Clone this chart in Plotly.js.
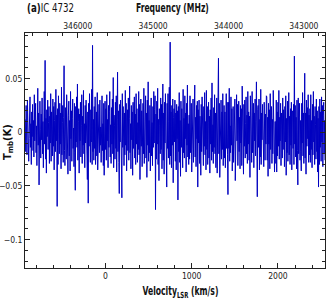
<!DOCTYPE html>
<html><head><meta charset="utf-8">
<script src="https://cdn.plot.ly/plotly-3.0.1.min.js"></script>
<style>html,body{margin:0;padding:0;background:#fff}#chart{width:327px;height:300px}</style>
</head><body><div id="chart"></div>
<script>
// Spectrum channels: velocity of first channel and channel width (km/s)
const velStart = -930;
const velStep = 5;
// Main-beam temperature per channel (K)
const tmb = [
 0.012,-0.018,0.025,0.004,-0.021,0.030,-0.009,0.016,-0.027,-0.006,0.021,0.033,-0.014,0.008,-0.030,0.019,-0.004,0.026,-0.017,0.011,
 -0.023,0.035,-0.008,0.014,0.027,-0.019,0.006,-0.031,0.022,0.041,-0.012,0.018,-0.049,-0.015,0.029,0.003,-0.024,0.017,-0.007,0.032,
 -0.020,0.010,-0.033,0.026,0.038,-0.011,0.067,-0.025,0.013,-0.038,0.021,-0.004,0.030,-0.016,0.009,0.024,-0.029,0.015,-0.010,0.036,
 -0.027,0.019,0.005,-0.022,0.031,-0.013,0.024,-0.035,0.011,0.028,-0.018,0.040,-0.008,0.016,-0.069,0.022,-0.030,0.034,0.002,-0.020,
 0.027,-0.011,0.018,-0.034,0.042,-0.021,0.009,0.025,-0.028,0.014,0.062,-0.017,-0.031,0.023,0.006,-0.025,0.035,-0.012,0.019,-0.039,
 0.016,0.029,-0.022,0.011,-0.036,0.038,-0.006,0.020,-0.027,0.013,0.031,-0.015,0.004,-0.032,0.027,-0.019,-0.054,0.024,-0.009,0.033,
 -0.014,0.045,-0.026,0.010,0.022,-0.038,0.017,-0.008,0.028,-0.023,0.006,0.035,-0.029,0.015,-0.012,0.039,-0.020,0.008,-0.033,0.025,
 -0.010,0.030,-0.024,0.014,-0.044,0.019,-0.066,0.027,-0.013,0.036,0.004,-0.028,0.021,-0.009,0.040,-0.030,0.081,-0.018,0.012,-0.026,
 0.024,-0.015,0.033,-0.030,0.009,0.019,-0.022,0.037,-0.035,0.011,-0.006,0.026,-0.019,0.030,-0.012,0.005,-0.028,0.021,0.034,-0.017,
 0.008,-0.031,0.027,-0.040,0.014,0.029,-0.016,0.022,-0.026,0.035,-0.008,0.012,-0.033,0.025,-0.014,0.019,0.038,-0.023,0.007,-0.029,
 0.023,-0.011,0.031,-0.020,0.051,-0.033,0.016,0.006,-0.025,0.028,-0.015,0.034,-0.037,0.012,0.056,-0.018,0.020,-0.028,-0.057,0.026,
 -0.009,0.030,-0.023,0.015,-0.061,0.036,-0.014,0.024,0.003,-0.031,0.018,-0.021,0.039,-0.012,0.027,-0.036,0.010,0.021,-0.017,0.032,
 -0.026,0.013,0.043,-0.019,0.008,-0.034,0.025,-0.007,0.019,-0.040,0.028,-0.015,0.011,0.033,-0.024,0.017,-0.030,0.036,-0.011,0.022,
 -0.028,0.009,-0.016,0.038,-0.021,0.026,-0.044,0.014,0.031,-0.013,0.020,-0.032,0.007,0.027,-0.020,0.041,-0.029,0.016,-0.008,0.034,
 -0.024,0.018,-0.042,0.030,-0.012,0.047,-0.027,0.011,-0.019,0.025,-0.036,0.015,0.032,-0.022,0.009,-0.031,0.024,-0.014,0.038,-0.010,
 0.021,0.034,-0.072,0.017,-0.025,0.029,-0.011,0.041,-0.030,0.012,-0.045,0.022,0.006,-0.020,0.032,-0.016,0.026,-0.034,0.013,0.045,
 -0.026,0.018,-0.039,0.028,-0.010,0.036,-0.022,0.015,-0.051,0.027,-0.015,0.036,-0.024,0.010,0.042,-0.030,0.084,-0.022,0.019,-0.033,
 0.025,-0.012,0.031,-0.047,0.014,0.022,-0.009,0.030,-0.027,0.018,-0.035,0.026,-0.006,0.020,-0.063,0.024,-0.018,0.037,-0.028,0.011,
 -0.041,0.029,-0.014,0.022,0.005,-0.033,0.040,-0.019,0.013,-0.024,0.034,-0.006,0.018,-0.037,0.027,-0.012,0.044,-0.023,0.008,-0.030,
 0.016,-0.025,0.034,-0.019,0.008,0.027,-0.037,0.012,-0.015,0.031,-0.028,0.020,-0.009,0.044,-0.023,0.014,-0.032,0.025,-0.006,0.029,
 -0.051,0.021,-0.010,0.030,-0.029,0.015,0.004,-0.040,0.026,-0.018,0.033,-0.007,0.019,-0.031,0.024,-0.013,0.037,-0.021,0.010,-0.035,
 0.039,-0.016,0.024,-0.030,0.009,0.028,-0.024,0.015,-0.038,0.021,-0.011,0.032,-0.026,0.046,-0.018,0.007,-0.029,0.023,-0.014,0.035,
 -0.020,0.018,-0.033,0.012,0.032,-0.038,0.022,-0.010,0.069,-0.020,0.027,-0.042,0.014,-0.009,0.030,-0.025,0.019,-0.016,0.036,-0.031,
 0.011,0.025,-0.024,0.019,-0.033,0.010,0.036,-0.015,0.028,-0.021,-0.058,0.028,-0.015,0.041,-0.027,0.006,-0.019,0.033,-0.012,0.022,
 -0.036,0.013,0.024,-0.028,0.017,-0.012,0.031,-0.045,0.017,-0.021,0.035,-0.008,0.026,-0.031,0.009,0.029,-0.018,0.014,-0.034,0.025,
 -0.010,0.022,-0.031,0.043,-0.017,0.009,-0.039,0.026,-0.013,0.030,-0.024,0.008,0.033,-0.020,0.016,-0.029,0.038,-0.011,0.019,-0.026,
 0.015,-0.042,0.034,-0.010,0.020,-0.028,0.038,-0.019,0.012,0.027,-0.033,0.018,-0.008,0.031,-0.022,0.010,0.047,-0.025,-0.060,0.021,
 0.025,-0.014,0.031,-0.035,0.012,-0.023,0.040,-0.030,0.018,-0.007,0.026,-0.019,0.009,-0.032,0.028,0.005,-0.026,0.017,-0.011,0.034,
 0.033,-0.026,0.014,-0.041,0.027,-0.011,0.021,-0.034,0.036,-0.016,0.008,0.024,-0.029,0.012,-0.020,0.039,-0.015,0.025,-0.037,0.010,
 0.010,-0.029,0.030,-0.037,0.019,-0.022,0.028,-0.013,0.039,-0.025,0.014,-0.008,0.027,-0.031,0.018,0.006,-0.024,0.032,-0.016,0.021,
 0.016,-0.032,0.024,-0.009,0.034,-0.040,0.013,-0.019,0.029,-0.027,0.009,0.037,-0.021,0.015,-0.030,0.022,-0.012,0.028,-0.035,0.019,
 0.020,-0.015,0.026,-0.030,0.071,-0.011,0.025,-0.023,0.014,-0.034,0.030,-0.017,-0.049,0.032,-0.020,0.014,0.027,-0.026,0.011,-0.018,
 -0.036,0.027,-0.010,0.037,-0.022,0.018,-0.029,0.012,0.055,-0.024,0.018,-0.039,0.030,-0.013,0.023,-0.006,0.035,-0.028,0.016,-0.021,
 0.022,-0.028,0.035,-0.016,0.011,-0.033,0.026,-0.021,0.038,-0.009,0.015,-0.030,0.024,0.007,-0.025,0.031,-0.018,0.020,-0.037,0.013,
 -0.051,0.024,-0.030,0.031,-0.014,0.019,-0.027,0.033,-0.009,0.025,-0.032,0.016,0.028,-0.020,0.011,-0.026
];
const velRange = [-933, 2545];
const freqRange = [346700, 342720];
const tmbRange = [-0.1264, 0.0925];
const velTicks = [0, 1000, 2000];
const velTickText = ['0', '1000', '2000'];
const freqTicks = [346000, 345000, 344000, 343000];
const freqTickText = ['346000', '345000', '344000', '343000'];
const tmbTicks = [0.05, 0, -0.05, -0.1];
const tmbTickText = ['0.05', '0', '\u22120.05', '\u22120.1'];

const FONT = '"DejaVu Sans Condensed", "DejaVu Sans", sans-serif';
const axCommon = {
  showgrid: false, zeroline: false, showline: true, linecolor: '#222', linewidth: 1,
  ticks: 'inside', ticklen: 5, tickcolor: '#222', tickwidth: 1,
  tickfont: {family: FONT, size: 8.5, color: '#222'}
};
const minorTick = {ticklen: 3, ticks: 'inside', tickcolor: '#222'};

const traces = [
  {x0: velStart, dx: velStep, y: tmb, type: 'scatter', mode: 'lines',
   line: {color: '#0000c0', width: 1}, hoverinfo: 'none'},
  {x: [], y: [], xaxis: 'x2', yaxis: 'y', type: 'scatter', mode: 'lines', showlegend: false}
];

const layout = {
  width: 327, height: 300, showlegend: false,
  paper_bgcolor: '#fff', plot_bgcolor: '#fff',
  margin: {l: 25, r: 2, t: 33, b: 32},
  xaxis: Object.assign({}, axCommon, {range: velRange, tickmode: 'array', tickvals: velTicks,
    ticktext: velTickText, minor: Object.assign({dtick: 200}, minorTick), mirror: false}),
  xaxis2: Object.assign({}, axCommon, {range: freqRange, overlaying: 'x', side: 'top', anchor: 'y',
    tickmode: 'array', tickvals: freqTicks, ticktext: freqTickText,
    minor: Object.assign({dtick: 200}, minorTick)}),
  yaxis: Object.assign({}, axCommon, {range: tmbRange, tickmode: 'array', tickvals: tmbTicks,
    ticktext: tmbTickText, mirror: 'ticks', minor: Object.assign({dtick: 0.01}, minorTick)}),
  annotations: [
    {text: '<b>(a)</b>IC 4732', xref: 'paper', yref: 'paper', x: 0, y: 1.106,
     xanchor: 'left', yanchor: 'middle', showarrow: false, font: {family: FONT, size: 12, color: '#111'}},
    {text: '<b>Frequency (MHz)</b>', xref: 'paper', yref: 'paper', x: 0.49, y: 1.106,
     xanchor: 'center', yanchor: 'middle', showarrow: false, font: {family: FONT, size: 12, color: '#111'}},
    {text: '<b>Velocity<sub>LSR</sub> (km/s)</b>', xref: 'paper', yref: 'paper', x: 0.517, y: -0.10,
     xanchor: 'center', yanchor: 'middle', showarrow: false, font: {family: FONT, size: 12, color: '#111'}},
    {text: '<b>T<sub>mb</sub>(K)</b>', xref: 'paper', yref: 'paper', x: -0.057, y: 0.536, textangle: -90,
     xanchor: 'center', yanchor: 'middle', showarrow: false, font: {family: FONT, size: 11, color: '#111'}}
  ]
};

// target drawn widths of the title texts (narrow lettering of the original); anchor: 0 = left, 0.5 = centre
const titleWidths = [47, 73, 76, 36];
const titleAnchors = [0, 0.5, 0.5, 0.5];

Plotly.newPlot('chart', traces, layout, {staticPlot: true, displayModeBar: false}).then(function (gd) {
  titleWidths.forEach(function (w, i) {
    const t = gd.querySelector('g.annotation[data-index="' + i + '"] text.annotation-text');
    if (!t) return;
    const b = t.getBBox();
    if (!b.width) return;
    const s = w / b.width;
    const cx = b.x + titleAnchors[i] * b.width;
    t.setAttribute('transform', 'translate(' + cx + ',0) scale(' + s + ',1) translate(' + (-cx) + ',0)');
  });
});
</script>
</body></html>
